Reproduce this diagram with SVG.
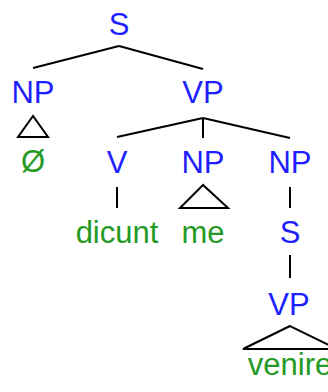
<svg xmlns="http://www.w3.org/2000/svg" width="328" height="392" viewBox="0 0 328 392">
<style>
text{font-family:"Liberation Sans",Arial,sans-serif;font-size:31px;text-anchor:middle}
.c{fill:#1f1fff}
.w{fill:#249a24}
.e{stroke:#000;stroke-width:2;fill:none}
</style>
<rect width="328" height="392" fill="#fff"/>
<g id="connectors">
<line class="e" x1="119" y1="46" x2="33" y2="68"/>
<line class="e" x1="119" y1="46" x2="203" y2="69"/>
<polygon class="e" points="33,116 18,137 48,137"/>
<line class="e" x1="203" y1="118" x2="117" y2="137"/>
<line class="e" x1="203" y1="118" x2="203" y2="138"/>
<line class="e" x1="203" y1="118" x2="290" y2="138"/>
<line class="e" x1="117" y1="187" x2="117" y2="208"/>
<polygon class="e" points="203,185 180,208 228,208"/>
<line class="e" x1="290" y1="187" x2="290" y2="208"/>
<line class="e" x1="290" y1="255" x2="290" y2="278"/>
<polygon class="e" points="290,326 243,349 337,349"/>
</g>
<g id="S"><text class="c" x="119" y="35">S</text></g>
<g id="NP1"><text class="c" x="33" y="103">NP</text></g>
<g id="VP1"><text class="c" x="203" y="103">VP</text></g>
<g id="null"><text class="w" x="33" y="172">Ø</text></g>
<g id="V"><text class="c" x="117" y="173">V</text></g>
<g id="NP2"><text class="c" x="203" y="173">NP</text></g>
<g id="NP3"><text class="c" x="290" y="173">NP</text></g>
<g id="dicunt"><text class="w" x="117" y="243">dicunt</text></g>
<g id="me"><text class="w" x="203" y="243">me</text></g>
<g id="S2"><text class="c" x="290" y="243">S</text></g>
<g id="VP2"><text class="c" x="289" y="315">VP</text></g>
<g id="venire"><text class="w" x="290" y="375">venire</text></g>
</svg>
